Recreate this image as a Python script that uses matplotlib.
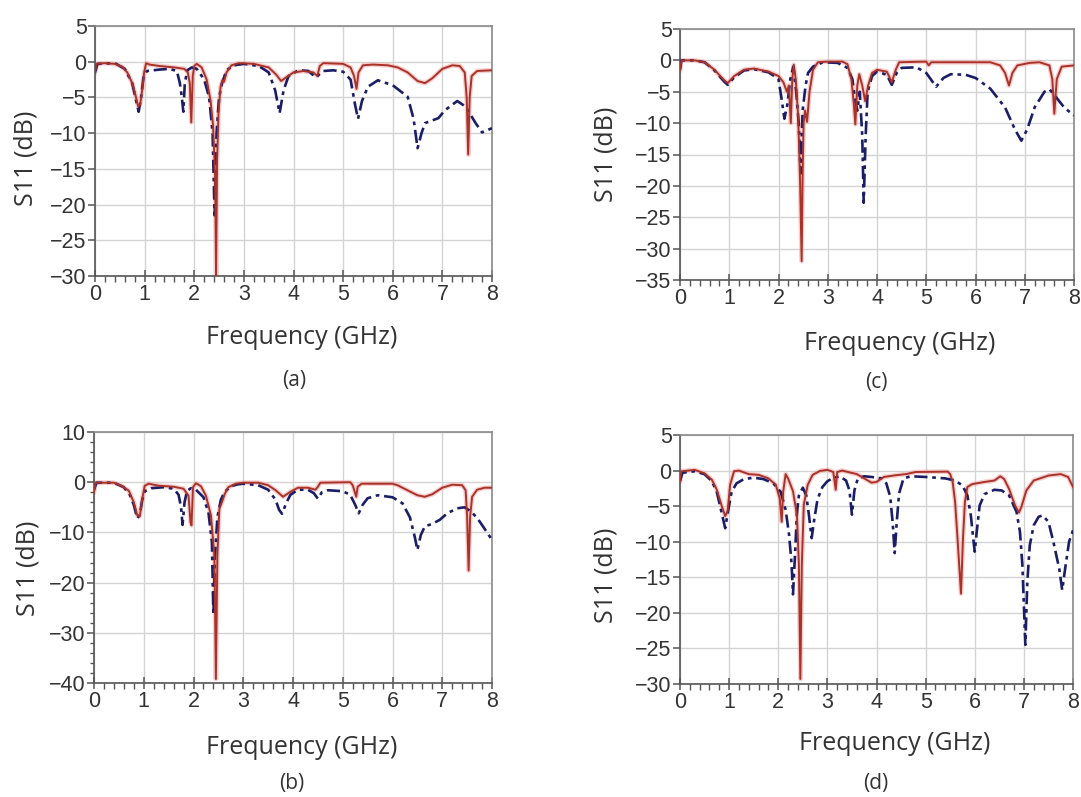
import matplotlib
matplotlib.use("Agg")
import matplotlib.pyplot as plt
from matplotlib.ticker import MultipleLocator

# ---------------- data (frequency GHz, S11 dB) ----------------
a_red = [(0,-1.5),(0.03,-0.3),(0.2,-0.2),(0.4,-0.3),(0.55,-0.7),(0.65,-1.5),(0.75,-3.0),(0.82,-4.8),
         (0.87,-6.3),(0.91,-6.0),(0.95,-4.0),(0.99,-1.5),(1.03,-0.2),(1.1,-0.4),(1.3,-0.6),(1.6,-0.8),
         (1.8,-1.0),(1.87,-1.5),(1.91,-3.0),(1.94,-8.5),(1.97,-2.0),(2.0,-0.6),(2.05,-0.3),(2.15,-0.8),
         (2.25,-2.5),(2.33,-5.5),(2.38,-9.0),(2.42,-16.0),(2.44,-30.0),(2.46,-14.0),(2.49,-7.0),
         (2.53,-3.5),(2.57,-2.6),(2.6,-2.8),(2.65,-1.5),(2.75,-0.5),(2.9,-0.2),(3.2,-0.3),(3.5,-0.8),
         (3.65,-1.8),(3.75,-2.7),(3.85,-2.2),(4.0,-1.5),(4.2,-1.3),(4.4,-1.5),(4.48,-2.0),(4.53,-0.6),
         (4.6,-0.2),(5.0,-0.3),(5.15,-0.8),(5.22,-2.0),(5.27,-3.8),(5.31,-1.5),(5.4,-0.5),(5.6,-0.4),
         (5.9,-0.5),(6.1,-0.8),(6.3,-1.5),(6.5,-2.7),(6.65,-3.0),(6.8,-2.3),(7.0,-1.0),(7.2,-0.5),
         (7.35,-0.6),(7.45,-1.5),(7.49,-5.0),(7.52,-13.0),(7.55,-5.0),(7.59,-2.0),(7.7,-1.3),(8.0,-1.2)]
a_blue = [(0,-1.5),(0.05,-0.3),(0.4,-0.2),(0.6,-1.0),(0.75,-3.0),(0.83,-5.5),(0.88,-7.0),(0.93,-5.0),
          (0.98,-2.0),(1.05,-1.3),(1.3,-1.1),(1.5,-1.0),(1.65,-1.3),(1.71,-3.0),(1.75,-5.0),(1.78,-7.0),
          (1.81,-3.0),(1.86,-1.2),(1.95,-0.8),(2.05,-1.0),(2.2,-2.5),(2.3,-5.0),(2.37,-10.0),(2.41,-21.5),
          (2.45,-10.0),(2.5,-5.0),(2.56,-3.0),(2.65,-1.2),(2.8,-0.5),(3.0,-0.3),(3.3,-0.6),(3.5,-1.5),
          (3.63,-4.0),(3.72,-7.2),(3.8,-4.0),(3.9,-2.0),(4.1,-1.2),(4.3,-1.3),(4.45,-2.2),(4.6,-1.3),
          (4.8,-1.2),(5.0,-1.4),(5.15,-2.5),(5.24,-6.0),(5.3,-8.0),(5.38,-5.5),(5.5,-3.5),(5.7,-2.6),
          (6.0,-3.3),(6.3,-4.9),(6.42,-8.0),(6.5,-12.1),(6.58,-10.0),(6.65,-8.6),(6.92,-7.9),(7.05,-6.8),
          (7.3,-5.5),(7.47,-6.3),(7.67,-8.6),(7.8,-9.9),(8.0,-9.3)]

b_red = [(0,-2.0),(0.03,-0.1),(0.4,-0.1),(0.55,-0.7),(0.7,-1.7),(0.8,-4.0),(0.87,-6.6),(0.92,-6.8),
         (0.97,-3.3),(1.02,-0.7),(1.1,-0.3),(1.3,-0.7),(1.6,-0.9),(1.8,-1.3),(1.9,-2.7),(1.94,-8.0),
         (1.96,-8.6),(1.99,-1.0),(2.05,-0.2),(2.15,-0.8),(2.25,-2.7),(2.35,-6.6),(2.42,-14.6),(2.45,-39.2),
         (2.48,-14.6),(2.52,-5.3),(2.57,-4.0),(2.63,-2.3),(2.7,-1.0),(2.85,-0.3),(3.0,-0.1),(3.3,-0.1),
         (3.5,-0.6),(3.65,-1.6),(3.8,-2.9),(3.95,-1.9),(4.1,-1.1),(4.3,-1.1),(4.45,-1.5),(4.5,-0.9),
         (4.55,-0.1),(5.15,0.0),(5.2,-0.6),(5.27,-2.9),(5.3,-0.9),(5.38,-0.3),(6.0,-0.3),(6.1,-0.6),
         (6.3,-1.6),(6.5,-2.6),(6.65,-2.9),(6.8,-2.4),(7.0,-1.1),(7.2,-0.5),(7.4,-0.6),(7.47,-1.6),
         (7.5,-6.9),(7.53,-17.6),(7.56,-6.9),(7.6,-2.9),(7.7,-1.5),(7.85,-1.1),(8.0,-1.1)]
b_blue = [(0,-1.5),(0.05,-0.1),(0.4,-0.1),(0.6,-1.0),(0.72,-2.5),(0.8,-4.5),(0.87,-7.2),(0.92,-6.5),
          (0.97,-3.5),(1.02,-1.8),(1.15,-1.2),(1.4,-1.0),(1.6,-1.3),(1.7,-2.5),(1.75,-5.0),(1.78,-8.5),
          (1.82,-4.0),(1.87,-1.7),(1.95,-1.2),(2.05,-1.5),(2.2,-3.0),(2.3,-6.0),(2.37,-12.0),(2.4,-26.5),
          (2.43,-15.0),(2.48,-7.0),(2.55,-3.5),(2.62,-2.0),(2.75,-0.8),(2.9,-0.4),(3.0,-0.3),(3.3,-0.6),
          (3.5,-1.5),(3.65,-3.5),(3.72,-5.5),(3.78,-6.3),(3.87,-4.0),(3.95,-2.5),(4.1,-1.5),(4.3,-1.5),
          (4.42,-2.2),(4.5,-3.3),(4.58,-2.0),(4.7,-1.6),(5.0,-1.8),(5.15,-2.5),(5.25,-4.5),(5.32,-6.2),
          (5.4,-4.5),(5.5,-3.2),(5.7,-2.6),(6.0,-3.0),(6.2,-4.2),(6.35,-7.0),(6.45,-11.0),(6.5,-13.5),
          (6.57,-10.5),(6.65,-8.8),(6.8,-8.3),(6.95,-7.5),(7.1,-6.2),(7.3,-5.2),(7.45,-5.0),(7.6,-6.0),
          (7.75,-7.8),(7.9,-10.0),(8.0,-11.5)]

c_red = [(0,-1.5),(0.03,0.0),(0.3,0.0),(0.5,-0.3),(0.7,-1.5),(0.9,-3.2),(0.97,-3.6),(1.1,-2.5),
         (1.3,-1.5),(1.5,-1.3),(1.8,-1.8),(2.0,-2.5),(2.1,-3.5),(2.17,-5.0),(2.21,-4.0),(2.25,-10.0),
         (2.28,-3.0),(2.31,-0.7),(2.35,-3.0),(2.4,-9.0),(2.44,-20.0),(2.47,-32.0),(2.49,-18.0),
         (2.51,-10.0),(2.54,-8.0),(2.58,-9.8),(2.63,-5.0),(2.7,-1.5),(2.8,-0.3),(3.0,-0.2),(3.3,-0.2),
         (3.4,-0.6),(3.48,-3.0),(3.53,-7.0),(3.56,-10.2),(3.6,-4.0),(3.64,-2.2),(3.7,-4.0),(3.76,-6.5),
         (3.82,-4.0),(3.9,-2.0),(4.0,-1.5),(4.2,-1.8),(4.3,-3.5),(4.38,-1.5),(4.45,-0.3),(5.0,-0.2),
         (5.05,-0.8),(5.1,-0.3),(6.3,-0.3),(6.5,-0.8),(6.6,-2.0),(6.68,-4.0),(6.75,-2.0),(6.85,-0.8),
         (7.1,-0.4),(7.3,-0.3),(7.5,-0.8),(7.56,-3.0),(7.6,-8.5),(7.65,-3.0),(7.75,-1.0),(8.0,-0.8)]
c_blue = [(0,-1.5),(0.03,0.0),(0.3,0.0),(0.5,-0.3),(0.7,-1.6),(0.9,-3.4),(0.97,-3.9),(1.1,-2.7),
          (1.3,-1.6),(1.5,-1.4),(1.8,-1.9),(2.0,-3.0),(2.06,-6.0),(2.12,-9.3),(2.18,-7.0),(2.24,-3.0),
          (2.3,-1.0),(2.36,-5.0),(2.41,-10.0),(2.45,-18.0),(2.49,-8.0),(2.55,-4.0),(2.6,-2.0),(2.7,-1.0),
          (2.9,-0.3),(3.2,-0.4),(3.4,-1.2),(3.5,-3.0),(3.55,-6.0),(3.6,-8.0),(3.65,-5.0),(3.7,-12.0),
          (3.73,-22.7),(3.77,-12.0),(3.81,-5.0),(3.9,-2.5),(4.0,-1.8),(4.2,-2.3),(4.3,-3.9),(4.4,-2.0),
          (4.5,-1.2),(4.8,-1.1),(5.0,-2.0),(5.2,-4.2),(5.35,-2.8),(5.5,-2.2),(5.8,-2.3),(6.0,-2.8),
          (6.3,-4.5),(6.6,-7.5),(6.8,-11.0),(6.93,-12.8),(7.05,-11.0),(7.2,-7.5),(7.4,-5.0),(7.5,-4.6),
          (7.6,-5.5),(7.8,-7.5),(8.0,-8.8)]

d_red = [(0,-1.5),(0.03,-0.1),(0.3,0.1),(0.5,-0.4),(0.65,-1.3),(0.75,-2.7),(0.85,-5.0),(0.92,-6.4),
         (0.97,-5.7),(1.02,-2.0),(1.1,-0.1),(1.2,0.0),(1.4,-0.5),(1.6,-0.6),(1.8,-1.1),(1.95,-2.0),
         (2.03,-3.9),(2.07,-7.2),(2.1,-3.0),(2.15,-0.5),(2.2,-1.1),(2.3,-2.9),(2.38,-6.2),(2.42,-13.2),
         (2.45,-29.3),(2.48,-13.2),(2.52,-4.8),(2.6,-2.0),(2.7,-0.6),(2.85,-0.05),(3.0,0.1),(3.12,-0.2),
         (3.17,-2.7),(3.2,-0.2),(3.3,0.0),(3.6,-0.5),(3.75,-1.1),(3.9,-1.7),(4.0,-1.6),(4.15,-0.9),
         (4.4,-0.65),(4.6,-0.5),(4.8,-0.2),(5.45,-0.15),(5.5,-0.5),(5.55,-1.6),(5.6,-4.4),(5.65,-9.6),
         (5.72,-17.3),(5.76,-9.6),(5.8,-4.4),(5.85,-2.3),(5.95,-1.9),(6.2,-1.6),(6.4,-1.4),(6.52,-0.8),
         (6.6,-1.2),(6.7,-2.6),(6.82,-4.9),(6.9,-5.9),(6.95,-5.1),(7.05,-2.8),(7.2,-1.4),(7.5,-0.7),
         (7.75,-0.5),(7.9,-0.9),(8.0,-2.3)]
d_blue = [(0,-1.5),(0.05,-0.3),(0.3,-0.1),(0.5,-0.5),(0.65,-1.5),(0.75,-3.0),(0.85,-6.0),(0.92,-8.1),
          (0.97,-6.0),(1.05,-3.0),(1.15,-1.8),(1.3,-1.2),(1.5,-1.0),(1.7,-1.2),(1.9,-1.8),(2.05,-3.0),
          (2.15,-5.5),(2.22,-9.0),(2.27,-13.0),(2.3,-17.4),(2.34,-12.0),(2.38,-6.0),(2.42,-3.5),
          (2.5,-2.4),(2.57,-3.5),(2.62,-6.0),(2.68,-9.5),(2.73,-7.0),(2.8,-4.0),(2.9,-2.3),(3.0,-1.5),
          (3.1,-1.1),(3.25,-0.8),(3.38,-1.4),(3.45,-2.8),(3.5,-6.2),(3.55,-2.8),(3.62,-1.1),(3.75,-0.8),
          (3.9,-0.9),(4.1,-1.1),(4.2,-1.8),(4.28,-3.7),(4.33,-7.4),(4.37,-11.6),(4.41,-7.4),(4.46,-3.2),
          (4.55,-1.1),(4.7,-0.8),(5.0,-0.9),(5.4,-1.1),(5.6,-1.4),(5.75,-2.1),(5.85,-3.5),(5.92,-6.3),
          (5.97,-9.6),(6.0,-11.4),(6.04,-8.6),(6.1,-4.9),(6.2,-3.3),(6.4,-2.7),(6.55,-2.8),(6.7,-3.5),
          (6.85,-5.8),(6.92,-8.6),(6.97,-13.3),(7.03,-24.5),(7.07,-15.7),(7.12,-10.5),(7.2,-7.7),
          (7.3,-6.5),(7.38,-6.3),(7.5,-7.2),(7.6,-10.0),(7.72,-13.8),(7.78,-16.8),(7.85,-13.3),
          (7.92,-10.0),(8.0,-8.4)]

x_ticks = [0, 1, 2, 3, 4, 5, 6, 7, 8]
y_ticks_a = [-30, -25, -20, -15, -10, -5, 0, 5]
y_ticks_b = [-40, -30, -20, -10, 0, 10]
y_ticks_c = [-35, -30, -25, -20, -15, -10, -5, 0, 5]
y_ticks_d = [-30, -25, -20, -15, -10, -5, 0, 5]
captions = ["(a)", "(b)", "(c)", "(d)"]
x_label = "Frequency (GHz)"
y_label = "S11 (dB)"

# ---------------- layout ----------------
W, H = 1081, 797
fig = plt.figure(figsize=(W / 100, H / 100), dpi=100)
fig.patch.set_facecolor("white")

RED = "#a8332a"
HALO = "#f3a6a6"
BLUE = "#1b1d66"
TICK_FONT = "Liberation Sans"
LABEL_FONT = "Open Sans"


def rect(l, t, r, b):
    return [l / W, 1 - b / H, (r - l) / W, (b - t) / H]


def ftxt(x, y, s, **kw):
    fig.text(x / W, 1 - y / H, s, ha="center", va="center", **kw)


panels = [
    # box, red, blue, yticks, ylim, yminor, freq label pos, caption pos, ylabel pos
    ((95, 26, 492, 276), a_red, a_blue, y_ticks_a, (-30, 5), None, (302, 338), (294, 380), (26, 158)),
    ((94, 432, 492, 683), b_red, b_blue, y_ticks_b, (-40, 10), 2, (302, 747), (292, 784), (28, 568)),
    ((680, 29, 1074, 280), c_red, c_blue, y_ticks_c, (-35, 5), None, (900, 343), (876, 383), (606, 154)),
    ((680, 435, 1073, 684), d_red, d_blue, y_ticks_d, (-30, 5), None, (895, 743), (876, 784), (606, 575)),
]

for i, (box, red, blue, yt, ylim, yminor, fpos, cpos, ypos) in enumerate(panels):
    ax = fig.add_axes(rect(*box))
    fr, sr = zip(*red)
    fb, sb = zip(*blue)
    ax.plot(fr, sr, color=HALO, lw=3.4, alpha=0.55, solid_joinstyle="round", zorder=2)
    ax.plot(fb, sb, color=BLUE, lw=1.9, linestyle=(0, (5, 1.8, 1.4, 1.8)), zorder=3)
    ax.plot(fr, sr, color=RED, lw=1.4, zorder=4)
    ax.set_xlim(0, 8)
    ax.set_ylim(*ylim)
    ax.set_xticks(x_ticks)
    ax.set_yticks(yt)
    ax.xaxis.set_minor_locator(MultipleLocator(0.2))
    if yminor:
        ax.yaxis.set_minor_locator(MultipleLocator(yminor))
    ax.grid(True, which="major", color="#d3d3d3", lw=1.0)
    ax.set_axisbelow(True)
    for side in ["left", "bottom"]:
        ax.spines[side].set_color("#555555")
        ax.spines[side].set_linewidth(1.2)
    for side in ["top", "right"]:
        ax.spines[side].set_color("#8a8a8a")
        ax.spines[side].set_linewidth(1.2)
    ax.tick_params(axis="x", which="major", direction="inout", length=8, width=1.1,
                   color="#555555", pad=2, labelsize=15.5, labelcolor="#333333")
    ax.tick_params(axis="x", which="minor", direction="out", length=4, width=1.0, color="#555555")
    ax.tick_params(axis="y", which="major", direction="out", length=5, width=1.1,
                   color="#555555", pad=1, labelsize=15.5, labelcolor="#333333")
    ax.tick_params(axis="y", which="minor", direction="out", length=3, width=1.0, color="#555555")
    for lab in ax.get_xticklabels() + ax.get_yticklabels():
        lab.set_fontfamily(TICK_FONT)
    ftxt(*fpos, x_label, fontsize=18, family=LABEL_FONT, color="#333333")
    ftxt(*cpos, captions[i], fontsize=15, family=LABEL_FONT, color="#333333")
    ftxt(*ypos, y_label, fontsize=18, family=LABEL_FONT, color="#333333", rotation=90)

fig.savefig("out.png", dpi=100, facecolor="white")
